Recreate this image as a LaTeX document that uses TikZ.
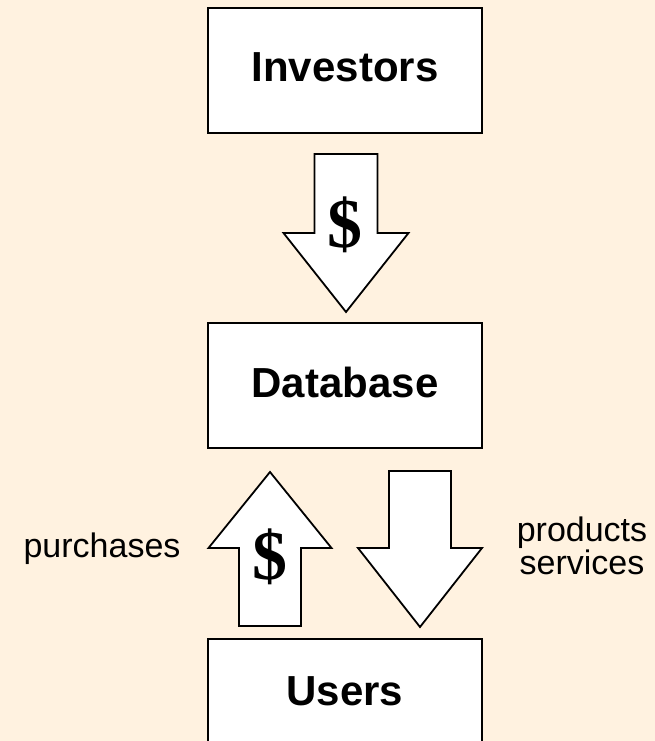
\documentclass[tikz,border=0pt]{standalone}
\usepackage{fontspec}
\setmainfont{Liberation Sans}
\newfontfamily\dollarfont{Liberation Serif}
\usetikzlibrary{positioning}
\definecolor{paper}{RGB}{255,242,224}

\tikzset{
 box/.style={draw, fill=white, line width=1.8pt, minimum width=274pt,
  minimum height=125pt, inner sep=0pt, font=\fontsize{42}{42}\selectfont\bfseries},
 fatarrow/.style={draw, fill=white, line width=1.8pt, line join=miter},
 dollar/.style={inner sep=0pt, font=\fontsize{70}{70}\dollarfont\bfseries},
 note/.style={inner sep=0pt, align=center, font=\fontsize{34}{30}\selectfont},
}

\begin{document}
\begin{tikzpicture}[x=1pt, y=-1pt]
 \useasboundingbox (0,0) rectangle (655,741);
 \fill[paper] (0,0) rectangle (655,741);
 \clip (0,0) rectangle (655,741);

 % the three parties
 \node [box] (investors) at (345,70.5) {\raisebox{6pt}{Investors}};
 \node [box] (database) at (345,385.5) {\raisebox{6pt}{Database}};
 \node [box] (users) at (345,701.5) {\raisebox{20pt}{Users}};

 % where the fat arrows point
 \coordinate (fund tip) at (346,312);
 \coordinate (buy tip) at (270,472);
 \coordinate (supply tip) at (420,627);

 % money from investors
 \draw [fatarrow] (fund tip) -- ++(62.5,-79) -- ++(-31,0) -- ++(0,-79)
  -- ++(-63,0) -- ++(0,79) -- ++(-31,0) -- cycle;
 \node [dollar] (fund) at (345,225) {\$};

 % money from users
 \draw [fatarrow] (buy tip) -- ++(61.5,76) -- ++(-30.5,0) -- ++(0,78)
  -- ++(-62,0) -- ++(0,-78) -- ++(-30.5,0) -- cycle;
 \node [dollar] (buy) at (270,557) {\$};

 % goods to users
 \draw [fatarrow] (supply tip) -- ++(62,-79) -- ++(-31,0) -- ++(0,-77)
  -- ++(-62,0) -- ++(0,77) -- ++(-31,0) -- cycle;

 \node [note, anchor=base] (purchases) at (102,557) {purchases};
 \node [note, anchor=south] (goods) at (582,575) {products\\services};
\end{tikzpicture}
\end{document}
